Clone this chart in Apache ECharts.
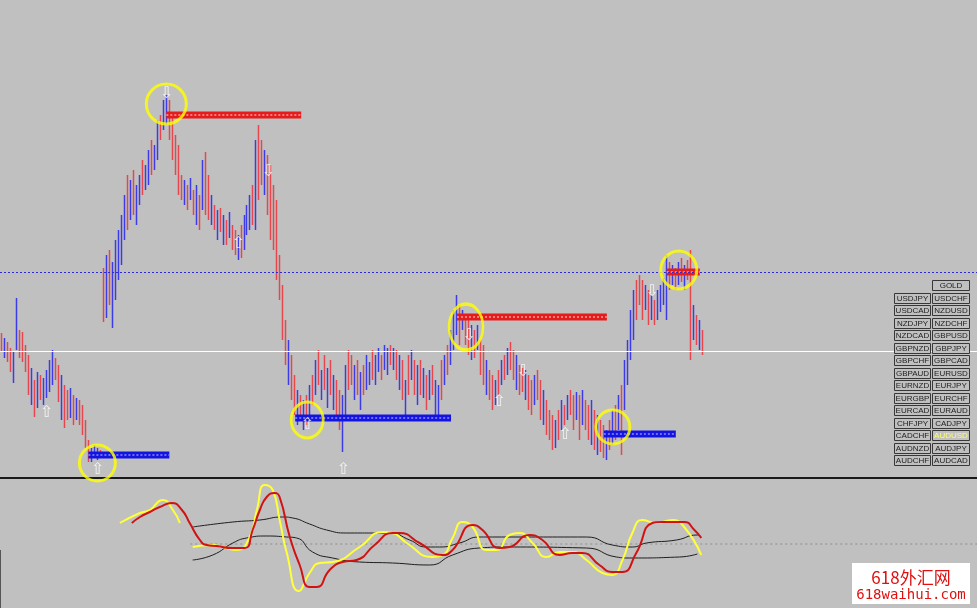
<!DOCTYPE html>
<html><head><meta charset="utf-8">
<script src="https://cdn.jsdelivr.net/npm/echarts/dist/echarts.min.js"></script>
<style>html,body{margin:0;padding:0;background:#c0c0c0;}#c{width:977px;height:608px;}</style>
</head><body><div id="c"></div>
<script>
// ---- price bars (high / low per bar, direction r=down, b=up) ----
const barHigh = [147,142,138,132,128,182,150,148,135,125,
112,100,108,105,102,110,120,130,122,115,
105,95,90,92,85,82,80,75,60,40,
32,35,32,30,212,225,230,218,240,250,
265,285,305,300,310,295,305,320,315,330,
340,335,360,365,380,385,380,368,345,335,
305,300,295,302,290,295,285,320,328,305,
285,275,270,272,265,260,268,255,250,245,
255,265,275,285,295,340,355,340,330,325,
315,295,280,225,195,160,140,125,105,90,
85,80,85,95,105,120,130,110,125,112,
120,105,100,90,85,115,130,125,115,120,
108,115,125,118,130,125,132,125,135,132,
135,132,130,125,120,100,125,130,120,115,
120,112,105,110,115,100,95,120,125,135,
150,170,185,175,170,165,160,155,150,155,
140,135,120,110,105,100,110,120,125,132,
138,130,125,115,112,110,105,100,105,110,
100,90,80,70,65,60,70,80,75,85,
90,85,88,85,90,80,75,80,70,65,
60,55,50,60,70,75,85,95,120,140,
170,190,200,205,200,195,190,185,180,190,
195,202,225,218,215,212,218,222,215,220,
230,175,165,160,150];
const barLow = [128,122,118,108,97,130,122,118,108,85,
75,63,72,80,75,82,88,95,100,78,
60,52,60,62,55,60,55,45,32,18,
18,22,20,22,158,162,175,152,180,200,
215,240,250,260,265,255,275,285,290,295,
305,310,320,340,350,355,340,320,305,285,
280,275,270,280,265,255,250,270,265,260,
255,250,240,248,235,235,242,230,225,220,
222,230,245,250,255,250,280,295,285,265,
240,230,200,180,140,115,95,80,65,55,
60,50,55,65,75,85,95,80,90,72,
85,70,60,50,28,60,90,95,80,85,
70,85,90,95,100,95,108,100,110,105,
115,110,100,90,80,65,85,100,85,75,
85,82,70,80,85,65,60,80,95,105,
115,130,145,135,150,135,125,120,122,130,
105,95,85,80,70,75,85,95,100,105,
110,100,90,85,88,80,70,65,75,80,
60,55,45,40,30,32,40,50,55,60,
65,50,60,40,55,50,40,35,30,25,
28,22,20,30,35,40,50,25,70,95,
120,140,160,175,160,170,155,160,155,160,
168,175,160,190,195,190,195,198,190,200,
120,140,135,130,125];
const barDir = "rbrrbbrrrr" + "brbrbbbbrr" + "brrbrbrrrr" + "bbbrrbrbbb" + "bbrbrbbrbb" +
               "rbbrbbrrrr" + "rbrbrbrbrr" + "brbrbrbrrb" + "rbbbrbrrbr" + "rrrrrrbrrb" +
               "rbrbrbrbrb" + "rbrrbbrrbr" + "brbbrbbrbb" + "rbrbrbrbrb" + "rbrbrbbrbr" +
               "bbbrbrrbrb" + "rrbrrbrbrb" + "rrbrrbrrbr" + "rbrrrbrbrb" + "rrbrbrrbrb" +
               "rrbrbrbrbb" + "bbrrrbrbrb" + "bbbrbrbrbr" + "rbrbr";
const slotCount = 326;

// horizontal reference levels
const whiteLevel = 129;
const blueDottedLevel = 208;

// signal bands [startBar, endBar, level]
const redBands = [[55, 100, 365], [152, 202, 163], [222, 233, 208]];
const blueBands = [[29, 56, 25], [98, 150, 62], [201, 225, 46]];

// highlight circles [bar, level, w, h]
const circles = [[32, 17, 36, 36], [55, 376, 40, 40], [102, 60, 32, 36], [155, 153, 34, 46], [204, 53, 34, 34], [226, 210, 36, 38]];

// arrows [bar, level]
const downArrows = [[55, 386], [89, 308], [156, 144], [174, 108], [217, 188]];
const upArrows = [[15, 67], [32, 10], [79, 236], [102, 55], [114, 10], [166, 78], [188, 45]];

// oscillator pane
const yellow1 = [[39.5,21],[46.2,31],[49.5,34],[53.8,44],[57.2,34],[59.5,21]];
const yellow2 = [[63.8,-3],[70.5,-1],[73.8,-3],[78.5,-6],[82.8,7],[85.2,34],[87.8,59],[90.5,54],[92.8,24],[95.2,-9],[99.2,-47],[102.8,-29],[106.2,-19],[110.5,-18],[119.5,-3],[127.2,12],[130.5,11],[135.2,1],[143.8,-13],[147.2,-11],[150.5,6],[153.8,22],[157.2,17],[161.8,-6],[165.2,-6],[169.5,9],[172.8,11],[177.2,1],[181.8,-13],[186.2,-8],[190.5,-8],[195.2,-16],[200.5,-29],[203.8,-31],[207.2,-16],[210.5,11],[213.8,24],[218.5,21],[223.8,24],[227.8,17],[233.5,-11]];
const redOsc = [[43.5,21],[46.2,27],[49.5,32],[52.8,37],[56.8,41],[60.2,34],[62.8,21],[66.2,4],[68.5,-1],[71.8,-2],[77.2,-4],[81.2,-4],[83.8,14],[86.2,34],[88.5,47],[91.2,51],[92.8,47],[96.2,7],[99.5,-21],[102.8,-43],[105.2,-43],[109.5,-26],[113.8,-18],[118.5,-16],[124.5,-1],[130.5,11],[132.8,11],[139.5,1],[147.2,-11],[150.5,-6],[157.2,19],[160.5,14],[166.2,-4],[169.5,-3],[176.2,9],[180.5,4],[186.2,-11],[190.5,-9],[193.8,-9],[199.5,-21],[203.8,-28],[207.2,-28],[211.8,-9],[217.2,21],[220.5,22],[223.8,22],[227.8,22],[231.2,14],[233.5,6]];
const upperBand = [[63.8,17],[77.2,22],[86.2,24],[93.8,27],[97.2,26],[102.8,20],[108.5,14],[115.2,11],[129.5,11],[136.2,4],[141.8,-3],[146.2,-3],[152.8,1],[159.5,7],[163.8,7],[195.2,7],[203.8,-1],[210.5,-3],[215.2,1],[225.2,4],[232.2,9],[233.5,7]];
const lowerBand = [[63.8,-16],[70.5,-11],[77.2,1],[81.8,6],[88.5,8],[95.2,7],[98.5,6],[103.8,-8],[110.5,-14],[119.5,-18],[130.5,-19],[142.8,-21],[150.5,-11],[159.5,-4],[168.5,-3],[195.2,-4],[205.2,-13],[209.5,-14],[226.2,-13],[232.2,-10]];
const zeroLine = [[63, 0], [325.5, 0]];

// symbol buttons
const pairLeft = ["", "USDJPY","USDCAD","NZDJPY","NZDCAD","GBPNZD","GBPCHF","GBPAUD","EURNZD","EURGBP","EURCAD","CHFJPY","CADCHF","AUDNZD","AUDCHF"];
const pairRight = ["GOLD","USDCHF","NZDUSD","NZDCHF","GBPUSD","GBPJPY","GBPCAD","EURUSD","EURJPY","EURCHF","EURAUD","CADJPY","AUDUSD","AUDJPY","AUDCAD"];
const activePair = "AUDUSD";
const watermark = ["618外汇网", "618waihui.com"];

// ---------- build ----------
const cats = [];
for (let i = 0; i < slotCount; i++) cats.push(String(i));
const candles = barHigh.map((h, i) => {
  const l = barLow[i];
  return barDir[i] === 'b' ? [l, h, l, h] : [h, l, l, h];
});

const series = [];
series.push({
  type: 'candlestick', xAxisIndex: 0, yAxisIndex: 0, data: candles, barWidth: 0.6,
  itemStyle: { color: '#3c3ce6', color0: '#e4484e', borderColor: '#3c3ce6', borderColor0: '#e4484e', borderWidth: 1.5 },
  markLine: {
    silent: true, symbol: 'none', label: { show: false }, animation: false,
    data: [
      { yAxis: whiteLevel, lineStyle: { color: '#ffffff', width: 1, type: 'solid' } },
      { yAxis: blueDottedLevel, lineStyle: { color: '#2a2ad8', width: 1, type: [2, 2] } }
    ]
  },
  z: 2
});
function band(b, col, light) {
  series.push({
    type: 'line', xAxisIndex: 0, yAxisIndex: 0, showSymbol: true, z: 3, silent: true,
    data: [{ value: [b[0], b[2]], symbol: 'arrow', symbolSize: [9, 12], symbolRotate: 90 }, { value: [b[1], b[2]], symbol: 'none' }],
    lineStyle: { color: col, width: 7 }, itemStyle: { color: col }
  });
  series.push({
    type: 'line', xAxisIndex: 0, yAxisIndex: 0, showSymbol: false, z: 4, silent: true,
    data: [[b[0], b[2]], [b[1], b[2]]],
    lineStyle: { color: light, width: 1.5, type: [2, 2] }
  });
}
redBands.forEach(b => band(b, '#e41c1c', '#ff9c9c'));
blueBands.forEach(b => band(b, '#1414e0', '#8c8cff'));

series.push({
  type: 'scatter', xAxisIndex: 0, yAxisIndex: 0, z: 6, silent: true,
  data: circles.map(c => ({ value: [c[0], c[1]], symbolSize: [c[2], c[3]] })),
  symbol: 'circle',
  itemStyle: { color: 'rgba(0,0,0,0)', borderColor: '#ffff00', borderWidth: 3 }
});
function arrows(list, glyph) {
  series.push({
    type: 'scatter', xAxisIndex: 0, yAxisIndex: 0, z: 7, silent: true,
    data: list, symbolSize: 1, itemStyle: { color: 'rgba(0,0,0,0)' },
    label: { show: true, position: 'inside', formatter: glyph, color: '#ffffff', fontSize: 16, fontFamily: 'DejaVu Sans' }
  });
}
arrows(downArrows, '⇩');
arrows(upArrows, '⇧');

function osc(data, color, width) {
  series.push({
    type: 'line', xAxisIndex: 1, yAxisIndex: 1, data, smooth: 0.55, showSymbol: false, silent: true,
    lineStyle: { color, width }
  });
}
series.push({ type: 'line', xAxisIndex: 1, yAxisIndex: 1, data: zeroLine, showSymbol: false, silent: true, lineStyle: { color: '#8c8c8c', width: 1, type: [2, 3] } });
osc(upperBand, '#1e1e1e', 1);
osc(lowerBand, '#1e1e1e', 1);
osc(yellow1, '#ffff3a', 2);
osc(yellow2, '#ffff3a', 2);
osc(redOsc, '#d01212', 2);

// button panel + watermark graphics
const graphics = [];
function button(x, y, w, txt) {
  graphics.push({ type: 'rect', shape: { x: x + 0.5, y: y + 0.5, width: w, height: 10 }, style: { fill: '#c0c0c0', stroke: '#383838', lineWidth: 1 }, z: 100 });
  graphics.push({ type: 'text', x: x + w / 2 + 0.5, y: y + 6, z: 101,
    style: { text: txt, align: 'center', verticalAlign: 'middle', textAlign: 'center', textVerticalAlign: 'middle',
      fontSize: 8, fontFamily: 'Liberation Sans', fill: txt === activePair ? '#ffff66' : '#1c1c1c' } });
}
for (let r = 0; r < pairRight.length; r++) {
  const y = Math.round(280 + r * 12.5);
  if (pairLeft[r]) button(894, y, 36, pairLeft[r]);
  button(932, y, 37, pairRight[r]);
}
graphics.push({ type: 'rect', shape: { x: 852, y: 563, width: 118, height: 41 }, style: { fill: '#ffffff' }, z: 100 });
graphics.push({ type: 'text', x: 911, y: 578, z: 101, style: { text: watermark[0], align: 'center', verticalAlign: 'middle', textAlign: 'center', textVerticalAlign: 'middle', fontSize: 17, fontFamily: 'Noto Sans CJK SC', fill: '#e01010' } });
graphics.push({ type: 'text', x: 911, y: 595, z: 101, style: { text: watermark[1], align: 'center', verticalAlign: 'middle', textAlign: 'center', textVerticalAlign: 'middle', fontSize: 14, fontFamily: 'DejaVu Sans Mono', fill: '#e01010' } });
graphics.push({ type: 'line', shape: { x1: 0.5, y1: 550, x2: 0.5, y2: 608 }, style: { stroke: '#555', lineWidth: 1 }, z: 50 });

const chart = echarts.init(document.getElementById('c'), null, { renderer: 'canvas' });
chart.setOption({
  backgroundColor: '#c0c0c0',
  animation: false,
  grid: [
    { left: 0, right: 0, top: 0, height: 478 },
    { left: 0, right: 0, top: 480, height: 128 }
  ],
  xAxis: [
    { type: 'category', gridIndex: 0, data: cats, boundaryGap: true,
      axisLine: { show: true, lineStyle: { color: '#1a1a1a', width: 2 } }, axisTick: { show: false }, axisLabel: { show: false }, splitLine: { show: false } },
    { type: 'value', gridIndex: 1, min: -0.5, max: slotCount - 0.5, show: false, splitLine: { show: false } }
  ],
  yAxis: [
    { type: 'value', gridIndex: 0, min: 2, max: 480, show: false, splitLine: { show: false } },
    { type: 'value', gridIndex: 1, min: -64, max: 64, show: false, splitLine: { show: false } }
  ],
  series,
  graphic: graphics
});
</script>
</body></html>
